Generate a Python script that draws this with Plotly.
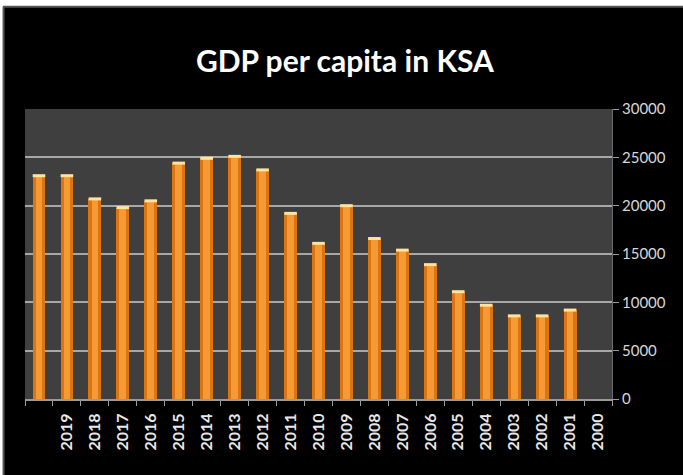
import plotly.graph_objects as go

years = [2019, 2018, 2017, 2016, 2015, 2014, 2013, 2012, 2011, 2010,
         2009, 2008, 2007, 2006, 2005, 2004, 2003, 2002, 2001, 2000]
gdp = [23100, 23100, 20700, 19800, 20500, 24400, 24900, 25100, 23700, 19200,
       16100, 20000, 16600, 15400, 13900, 11100, 9700, 8600, 8600, 9200]
title_text = "GDP per capita in KSA"

pos = list(range(len(years)))
# labels in the source are offset by one slot to the right of their bars
label_pos = [p + 1 for p in pos]

fig = go.Figure()
fig.add_trace(go.Bar(x=pos, y=gdp, width=0.46, marker=dict(color="#DC7410", line=dict(width=0)),
                     hoverinfo="y", showlegend=False))
fig.add_trace(go.Bar(x=pos, y=gdp, width=0.24, marker=dict(color="#F59A35", line=dict(width=0)),
                     hoverinfo="skip", showlegend=False))
fig.add_trace(go.Scatter(x=pos, y=gdp, mode="markers",
                         marker=dict(symbol="line-ew", size=9, line=dict(color="#FFE3A0", width=3)),
                         hoverinfo="skip", showlegend=False))

# frame strips on top and left
fig.add_shape(type="rect", xref="paper", yref="paper", x0=-0.06, x1=1.2, y0=1.355, y1=1.40,
              fillcolor="white", line=dict(width=0), layer="above")
fig.add_shape(type="line", xref="paper", yref="paper", x0=-0.06, x1=1.2, y0=1.353, y1=1.353,
              line=dict(color="#555555", width=2), layer="above")
fig.add_shape(type="rect", xref="paper", yref="paper", x0=-0.06, x1=-0.0375, y0=-0.4, y1=1.40,
              fillcolor="white", line=dict(width=0), layer="above")
fig.add_shape(type="line", xref="paper", yref="paper", x0=-0.0365, x1=-0.0365, y0=-0.4, y1=1.353,
              line=dict(color="#555555", width=2), layer="above")

fig.update_layout(
    width=683, height=475,
    margin=dict(l=25, r=71, t=109, b=76),
    paper_bgcolor="black", plot_bgcolor="#3f3f3f",
    barmode="overlay",
    title=dict(text=title_text, x=0.505, xanchor="center", y=0.87, yanchor="middle",
               font=dict(family="Lato", size=30, color="white", weight="bold")),
    xaxis=dict(range=[-0.5, 20.5], tickmode="array", tickvals=label_pos,
               ticktext=[str(y) for y in years], tickangle=-90,
               tickfont=dict(family="Lato", size=16, color="#e8e8e8", weight="bold"),
               ticklabelstandoff=6,
               showgrid=False, zeroline=False, ticks="", showline=True,
               linecolor="#9a9a9a", linewidth=2,
               minor=dict(tickmode="linear", tick0=0.5, dtick=1, ticks="outside",
                          ticklen=5, tickcolor="#9a9a9a", tickwidth=1, showgrid=False)),
    yaxis=dict(range=[0, 30000], dtick=5000, side="right", tickformat="d",
               tickfont=dict(family="Lato", size=15, color="#d8d8d8"),
               showgrid=True, gridcolor="#a8a8a8", gridwidth=2,
               zeroline=False, ticks="outside", ticklen=6, tickcolor="#9a9a9a",
               showline=True, linecolor="#6a6a6a", linewidth=1),
    bargap=0,
)

fig.write_html("out.html")
